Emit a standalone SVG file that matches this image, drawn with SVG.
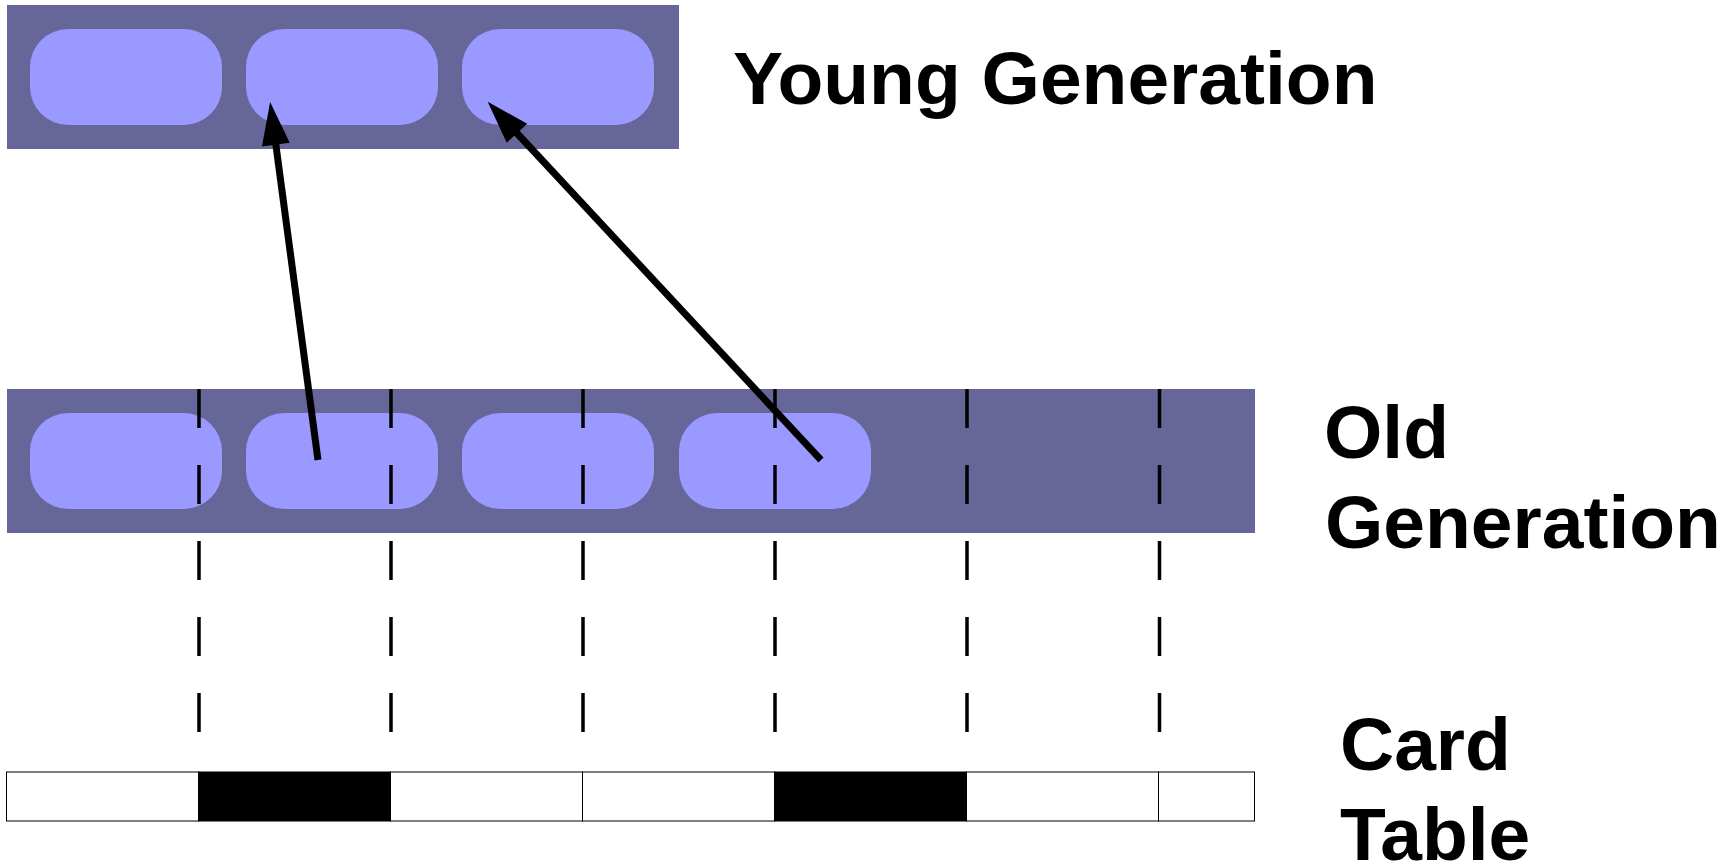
<svg xmlns="http://www.w3.org/2000/svg" width="1731" height="863" viewBox="0 0 1731 863">
  <style>
    .gen { fill: #666699; }
    .obj { fill: #9999ff; }
    .label { font-family: "Liberation Sans", Arial, sans-serif; font-weight: bold; font-size: 75px; fill: #000; }
    .card { stroke: #000; stroke-width: 1; }
    .card-clean { fill: #ffffff; }
    .card-dirty { fill: #000000; }
    .boundary { stroke: #000; stroke-width: 3.5; stroke-dasharray: 39 37; fill: none; }
    .ref { stroke: #000; stroke-width: 7; fill: none; marker-end: url(#head); }
  </style>
  <defs>
    <marker id="head" markerUnits="userSpaceOnUse" markerWidth="44" markerHeight="28" refX="1" refY="14" orient="auto" overflow="visible">
      <path d="M0,0 L43,14 L0,28 z" fill="#000"/>
    </marker>
  </defs>

  <rect width="1731" height="863" fill="#ffffff"/>

  <!-- Young generation -->
  <g id="young-generation">
    <rect class="gen" x="7" y="5" width="672" height="144"/>
    <rect class="obj" x="30" y="29" width="192" height="96" rx="38" ry="38"/>
    <rect class="obj" x="246" y="29" width="192" height="96" rx="38" ry="38"/>
    <rect class="obj" x="462" y="29" width="192" height="96" rx="38" ry="38"/>
  </g>
  <g id="young-label">
    <text class="label" x="733" y="104">Young Generation</text>
  </g>

  <!-- Old generation -->
  <g id="old-generation">
    <rect class="gen" x="7" y="389" width="1248" height="144"/>
    <rect class="obj" x="30" y="413" width="192" height="96" rx="38" ry="38"/>
    <rect class="obj" x="246" y="413" width="192" height="96" rx="38" ry="38"/>
    <rect class="obj" x="462" y="413" width="192" height="96" rx="38" ry="38"/>
    <rect class="obj" x="679" y="413" width="192" height="96" rx="38" ry="38"/>
  </g>
  <g id="old-label">
    <text class="label" x="1324" y="458">Old</text>
    <text class="label" x="1325" y="548">Generation</text>
  </g>

  <!-- Card boundaries -->
  <g id="card-boundaries">
    <line class="boundary" x1="199" y1="389" x2="199" y2="735"/>
    <line class="boundary" x1="391" y1="389" x2="391" y2="735"/>
    <line class="boundary" x1="583" y1="389" x2="583" y2="735"/>
    <line class="boundary" x1="775" y1="389" x2="775" y2="735"/>
    <line class="boundary" x1="967" y1="389" x2="967" y2="735"/>
    <line class="boundary" x1="1159.5" y1="389" x2="1159.5" y2="735"/>
  </g>

  <!-- Card table -->
  <g id="card-table">
    <rect class="card card-clean" x="6.5" y="772" width="192" height="49"/>
    <rect class="card card-dirty" x="198.5" y="772" width="192" height="49"/>
    <rect class="card card-clean" x="390.5" y="772" width="192" height="49"/>
    <rect class="card card-clean" x="582.5" y="772" width="192" height="49"/>
    <rect class="card card-dirty" x="774.5" y="772" width="192" height="49"/>
    <rect class="card card-clean" x="966.5" y="772" width="192" height="49"/>
    <rect class="card card-clean" x="1158.5" y="772" width="96" height="49"/>
  </g>
  <g id="card-label">
    <text class="label" x="1340" y="770">Card</text>
    <text class="label" x="1340" y="860">Table</text>
  </g>

  <!-- Old-to-young references -->
  <g id="connectors">
    <line class="ref" x1="318" y1="460" x2="275.7" y2="143.6"/>
    <line class="ref" x1="821" y1="460" x2="516.3" y2="132.5"/>
  </g>
</svg>
